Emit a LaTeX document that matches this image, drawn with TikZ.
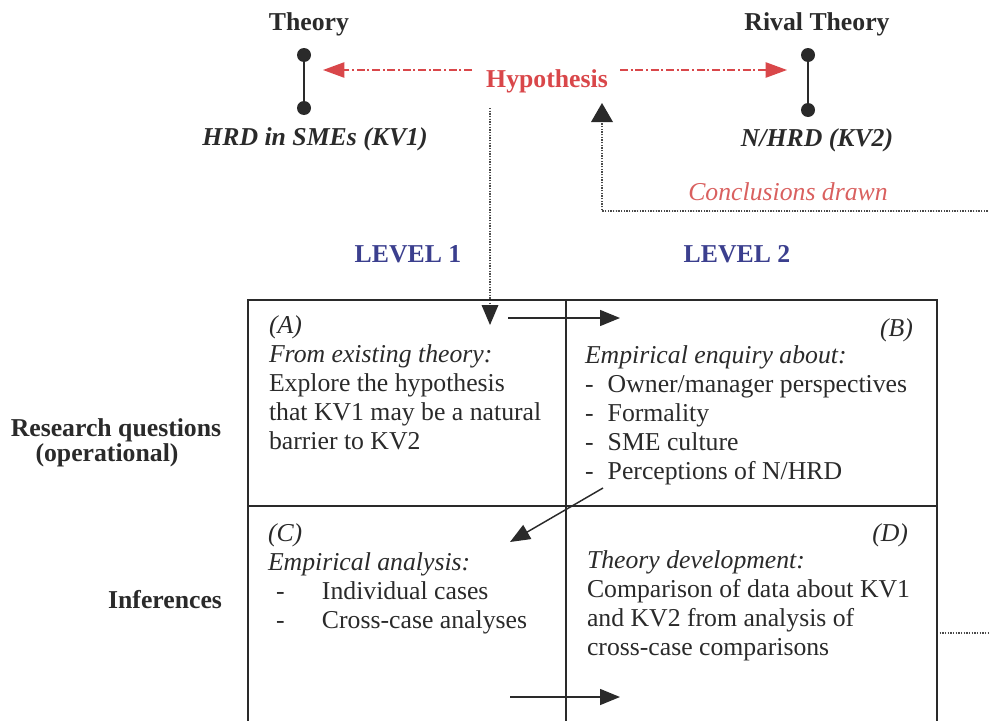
\documentclass[tikz,border=0pt]{standalone}
\usepackage{fontspec}
\setmainfont{Liberation Serif}
\usetikzlibrary{arrows.meta}

\definecolor{ink}{HTML}{2A2A2A}
\definecolor{hyred}{HTML}{D9474A}
\definecolor{concred}{HTML}{D9605F}
\definecolor{levelblue}{HTML}{3B3F8E}
\definecolor{dotgray}{HTML}{4A4A4A}

\begin{document}
\begin{tikzpicture}[x=0.75pt,y=-0.75pt,
  every node/.style={inner sep=0pt,outer sep=0pt,text=ink},
  txt/.style={font=\fontsize{19.3}{21.75}\selectfont},
  bold/.style={font=\fontsize{19.3}{21.75}\selectfont\bfseries},
  blk/.style={txt,align=flush left,text width=#1,anchor=base west},
  grid/.style={draw=ink,line width=1.4pt},
  stem/.style={draw=ink,line width=1.6pt},
  knob/.style={fill=ink,draw=none},
  redlink/.style={draw=hyred,line width=1pt,
    dash pattern=on 6pt off 2pt on 1.5pt off 2pt,
    -{Triangle[length=16pt,width=11.5pt,fill=hyred]}},
  dotlink/.style={draw=dotgray,line width=1pt,dash pattern=on 1pt off 1pt},
  solidlink/.style={draw=ink,line width=1.1pt,
    -{Triangle[length=15pt,width=12pt]}},
]
\useasboundingbox (0,0) rectangle (989,721);
\clip (0,0) rectangle (989,721);

% ---------- theory poles ----------
\node[bold,anchor=base] (theory) at (309,30) {Theory};
\node[bold,anchor=base] (rival) at (817,31) {Rival Theory};
\coordinate (tTop) at (304,55);
\coordinate (tBot) at (304,108);
\coordinate (rTop) at (808,55);
\coordinate (rBot) at (808,110);
\draw[stem] (tTop) -- (tBot);
\draw[stem] (rTop) -- (rBot);
\fill[knob] (tTop) circle (7);
\fill[knob] (tBot) circle (7);
\fill[knob] (rTop) circle (7);
\fill[knob] (rBot) circle (7);
\node[txt,font=\fontsize{19.3}{21.75}\selectfont\bfseries\itshape,anchor=base] (kv1) at (315,145) {HRD in SMEs (KV1)};
\node[txt,font=\fontsize{19.3}{21.75}\selectfont\bfseries\itshape,anchor=base] (kv2) at (817,146) {N/HRD (KV2)};

% ---------- hypothesis ----------
\node[bold,text=hyred,anchor=base] (hypo) at (547,87) {Hypothesis};
\coordinate (hL) at (472,70);
\coordinate (hR) at (620,70);
\coordinate (tipL) at (323,70);
\coordinate (tipR) at (787,70);
\draw[redlink] (hL) -- (tipL);
\draw[redlink] (hR) -- (tipR);

% ---------- conclusions loop ----------
\node[txt,font=\fontsize{19.3}{21.75}\selectfont\itshape,text=concred,anchor=base] (concl) at (788,200) {Conclusions drawn};
\coordinate (dOut) at (937,633);
\coordinate (loopA) at (1010,633);
\coordinate (loopB) at (1010,211);
\coordinate (loopC) at (602,211);
\coordinate (hypUp) at (602,103);
\draw[dotlink] (dOut) -- (loopA) -- (loopB) -- (loopC) -- (602,122);
\fill[ink] (hypUp) -- (591,122) -- (613,122) -- cycle;

% ---------- levels ----------
\node[bold,text=levelblue,anchor=base] (lev1) at (408,262) {LEVEL 1};
\node[bold,text=levelblue,anchor=base] (lev2) at (737,262) {LEVEL 2};

% hypothesis feeding cell A
\coordinate (hypDown) at (490,108);
\coordinate (aIn) at (490,305);
\draw[dotlink] (hypDown) -- (aIn);
\fill[ink] (490,325) -- (481.5,305) -- (498.5,305) -- cycle;

% ---------- grid of cells ----------
\coordinate (gTL) at (248,300);
\coordinate (gBR) at (937,760);
\coordinate (gMidT) at (566,300);
\coordinate (gMidB) at (566,760);
\coordinate (gRowL) at (248,506);
\coordinate (gRowR) at (937,506);
\draw[grid] (gTL) rectangle (gBR);
\draw[grid] (gMidT) -- (gMidB);
\draw[grid] (gRowL) -- (gRowR);

% ---------- row labels ----------
\node[bold,anchor=base] (rq1) at (116,436) {Research questions};
\node[bold,anchor=base] (rq2) at (107,461) {(operational)};
\node[bold,anchor=base east] (inf) at (222,608) {Inferences};

% ---------- cell A ----------
\node[blk=300pt] (cellA) at (269,333) {\textit{(A)}\\
\textit{From existing theory:}\\
Explore the hypothesis\\
that KV1 may be a natural\\
barrier to KV2};

% ---------- cell B ----------
\node[txt,font=\fontsize{19.3}{21.75}\selectfont\itshape,anchor=base east] (labB) at (913,336) {(B)};
\node[blk=300pt] (cellB) at (585,363) {\textit{Empirical enquiry about:}\\
-\hspace{0.55em}Owner/manager perspectives\\
-\hspace{0.55em}Formality\\
-\hspace{0.55em}SME culture\\
-\hspace{0.55em}Perceptions of N/HRD};

% ---------- cell C ----------
\node[blk=260pt] (cellC) at (268,541) {\textit{(C)}\\
\textit{Empirical analysis:}\\
\makebox[40.5pt][l]{\hspace{6pt}-}Individual cases\\
\makebox[40.5pt][l]{\hspace{6pt}-}Cross-case analyses};

% ---------- cell D ----------
\node[txt,font=\fontsize{19.3}{21.75}\selectfont\itshape,anchor=base east] (labD) at (908,541) {(D)};
\node[blk=300pt] (cellD) at (587,568) {\textit{Theory development:}\\
Comparison of data about KV1\\
and KV2 from analysis of\\
cross-case comparisons};

% ---------- flow between cells ----------
\coordinate (abS) at (508,318);
\coordinate (abE) at (620,318);
\coordinate (bcS) at (603,488);
\coordinate (bcE) at (510,542);
\coordinate (cdS) at (510,697);
\coordinate (cdE) at (620,697);
\draw[solidlink] (abS) -- (abE);
\draw[solidlink] (bcS) -- (bcE);
\draw[solidlink] (cdS) -- (cdE);
\end{tikzpicture}
\end{document}
